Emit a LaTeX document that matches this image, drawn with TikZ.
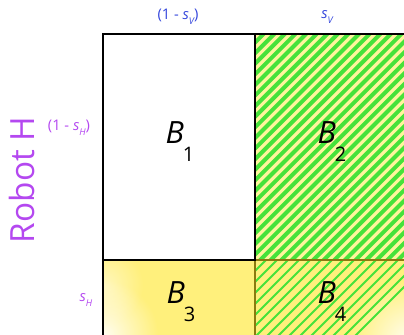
\documentclass[tikz,border=0pt]{standalone}
\usepackage{fontspec}
\setsansfont{Open Sans}
\usepackage{tikz}
\usetikzlibrary{fadings}
\definecolor{stripegreen}{HTML}{46E23A}
\definecolor{paleyellow}{HTML}{FFF59C}
\definecolor{cellyellow}{HTML}{FFF07C}
\definecolor{olive}{HTML}{8A7A10}
\definecolor{labelblue}{HTML}{3446DC}
\definecolor{labelpurple}{HTML}{B448F0}
\tikzfading[name=glowfade, inner color=transparent!0, outer color=transparent!100]
\newcommand{\blab}[1]{{\itshape B}\kern-1pt\raisebox{-1.1ex}{\fontsize{15}{15}\selectfont #1}}
\newcommand{\slab}[1]{{\itshape s}\raisebox{-0.6ex}{\fontsize{7}{7}\selectfont\itshape #1}}
\tikzset{
  cell/.style={font=\sffamily\fontsize{23}{23}\selectfont},
  probv/.style={font=\sffamily\fontsize{11}{11}\selectfont, text=labelblue},
  probh/.style={font=\sffamily\fontsize{11}{11}\selectfont, text=labelpurple},
  glow/.style={white, path fading=glowfade},
}
\begin{document}
\begin{tikzpicture}[x=0.75pt,y=-0.75pt]
  \useasboundingbox (0,0) rectangle (404,335);
  % Felder
  \fill[cellyellow] (103,260) rectangle (255,340);
  \begin{scope}
    \clip (103,260) rectangle (255,340);
    \fill[glow, opacity=0.9] (103,335) circle (55);
    \fill[glow, opacity=0.5] (103,285) circle (40);
  \end{scope}
  \fill[paleyellow] (255,34) rectangle (410,260);
  \fill[cellyellow] (255,260) rectangle (410,340);
  \begin{scope}
    \clip (255,260) rectangle (410,340);
    \fill[glow, opacity=0.9] (410,340) circle (60);
    \foreach \i in {0,...,16}
      \draw[stripegreen, line width=1.5pt] (255+\i*11-80,340) -- ++(80,-80);
  \end{scope}
  \begin{scope}
    \clip (255,34) rectangle (410,260);
    \foreach \i in {0,...,38}
      \draw[stripegreen, line width=3pt] (255+\i*10.6-230,262) -- ++(232,-232);
  \end{scope}
  % Linien
  \draw[olive, line width=1.2pt] (255,260) -- (410,260);
  \draw[olive, line width=1.2pt] (255,260) -- (255,340);
  \draw[line width=1.5pt] (103,340) -- (103,34) -- (410,34);
  \draw[line width=1.5pt] (255,34) -- (255,260) -- (103,260);
  % Beschriftungen
  \node[cell] (b1) at (180,142) {\blab{1}};
  \node[cell] (b2) at (332,142) {\blab{2}};
  \node[cell] (b3) at (181,302) {\blab{3}};
  \node[cell] (b4) at (332,302) {\blab{4}};
  \node[probv] (sv0) at (178,17) {(1 - \slab{V})};
  \node[probv] (sv1) at (327,17) {\slab{V}};
  \node[probh] (sh0) at (69,128) {(1 - \slab{H})};
  \node[probh] (sh1) at (86,300) {\slab{H}};
  \node[font=\sffamily\fontsize{25}{25}\selectfont, text=labelpurple, rotate=90] (robot) at (22,180) {Robot H};
\end{tikzpicture}
\end{document}
